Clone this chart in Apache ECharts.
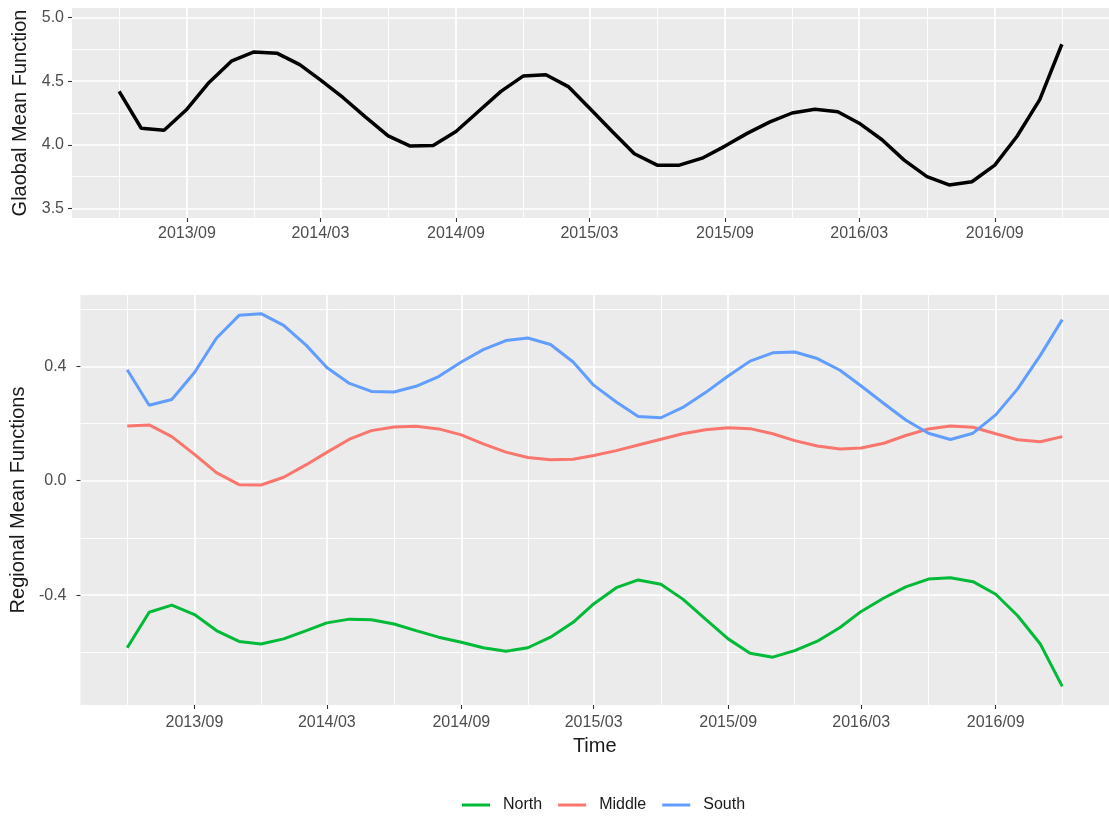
<!DOCTYPE html>
<html><head><meta charset="utf-8">
<script src="https://cdn.jsdelivr.net/npm/echarts@6/dist/echarts.min.js"></script>
<style>html,body{margin:0;padding:0;background:#fff}#c{width:1109px;height:818px}</style>
</head><body><div id="c"></div>
<script>
const months = ['2013-06','2013-07','2013-08','2013-09','2013-10','2013-11','2013-12',
  '2014-01','2014-02','2014-03','2014-04','2014-05','2014-06','2014-07','2014-08','2014-09','2014-10','2014-11','2014-12',
  '2015-01','2015-02','2015-03','2015-04','2015-05','2015-06','2015-07','2015-08','2015-09','2015-10','2015-11','2015-12',
  '2016-01','2016-02','2016-03','2016-04','2016-05','2016-06','2016-07','2016-08','2016-09','2016-10','2016-11','2016-12'];
const globalMean = [4.42,4.13,4.115,4.28,4.49,4.66,4.73,4.72,4.63,4.51,4.37,4.22,4.07,3.99,3.995,4.105,4.26,4.42,4.54,4.55,4.455,4.29,4.105,3.93,3.84,3.84,3.895,3.99,4.09,4.18,4.25,4.28,4.26,4.17,4.04,3.88,3.75,3.685,3.71,3.84,4.065,4.355,4.79];
const north = [-0.584,-0.460,-0.435,-0.468,-0.524,-0.562,-0.571,-0.553,-0.524,-0.497,-0.484,-0.486,-0.501,-0.524,-0.547,-0.565,-0.584,-0.596,-0.584,-0.547,-0.495,-0.431,-0.374,-0.347,-0.362,-0.414,-0.484,-0.553,-0.603,-0.617,-0.594,-0.561,-0.513,-0.457,-0.410,-0.371,-0.344,-0.339,-0.353,-0.397,-0.472,-0.571,-0.719];
const middle = [0.191,0.195,0.154,0.092,0.028,-0.014,-0.015,0.012,0.056,0.099,0.145,0.175,0.188,0.190,0.181,0.160,0.129,0.100,0.081,0.073,0.075,0.088,0.105,0.125,0.145,0.164,0.178,0.185,0.182,0.164,0.140,0.121,0.111,0.114,0.131,0.158,0.181,0.191,0.187,0.164,0.143,0.136,0.154];
const south = [0.388,0.264,0.284,0.378,0.498,0.578,0.584,0.543,0.473,0.396,0.340,0.312,0.310,0.330,0.364,0.415,0.458,0.490,0.499,0.476,0.415,0.334,0.275,0.224,0.220,0.256,0.308,0.366,0.418,0.447,0.450,0.427,0.386,0.331,0.270,0.212,0.166,0.144,0.166,0.230,0.321,0.438,0.563];
const seriesNames = ['North','Middle','South'];
const xTickLabels = ['2013/09','2014/03','2014/09','2015/03','2015/09','2016/03','2016/09'];
const xMinorTicks = ['2013/06','2013/12','2014/06','2014/12','2015/06','2015/12','2016/06','2016/12'];
const topYTicks = [3.5,4.0,4.5,5.0];
const topYMinor = [3.75,4.25,4.75];
const topYLimits = [3.5,5.0];
const botYTicks = [-0.4,0.0,0.4];
const botYMinor = [-0.6,-0.2,0.2,0.6];

function ts(s){ const p = s.split(/[-\/]/); return Date.UTC(+p[0], +p[1]-1, 1); }
const xs = months.map(ts);
const t0 = xs[0], t1 = xs[xs.length-1], pad = 0.05*(t1-t0);
const xMin = t0 - pad, xMax = t1 + pad;
const xMajorVals = xTickLabels.map(ts);
const xMinorVals = xMinorTicks.map(ts);
const labelMap = {}; xTickLabels.forEach(l => labelMap[ts(l)] = l);

const tyPad = 0.05*(topYLimits[1]-topYLimits[0]);
const allBot = north.concat(middle, south);
const bMinV = Math.min(...allBot), bMaxV = Math.max(...allBot);
const bPad = 0.05*(bMaxV-bMinV);

const FONT = 'Liberation Sans, Arial, sans-serif';
const tickStyle = {color:'#333333', width:1.1};
const labelColor = '#4D4D4D';
function xMajor(g, margin){
  return {type:'value', gridIndex:g, min:xMin, max:xMax, position:'bottom',
    axisLine:{show:false, onZero:false},
    axisTick:{show:true, length:4, lineStyle:tickStyle, customValues:xMajorVals},
    axisLabel:{customValues:xMajorVals, formatter:v=>labelMap[v]||'', color:labelColor, fontSize:16, margin:margin, fontFamily:FONT},
    splitLine:{show:true, lineStyle:{color:'#FFFFFF', width:1.7}}};
}
function xMinor(g){
  return {type:'value', gridIndex:g, min:xMin, max:xMax, position:'bottom',
    axisLine:{show:false, onZero:false}, axisTick:{show:false, customValues:xMinorVals}, axisLabel:{show:false},
    splitLine:{show:true, lineStyle:{color:'#FFFFFF', width:0.9}}};
}
function yMajor(g, min, max, ticks, margin){
  return {type:'value', gridIndex:g, min:min, max:max, position:'left',
    axisLine:{show:false, onZero:false},
    axisTick:{show:true, length:4, lineStyle:tickStyle, customValues:ticks},
    axisLabel:{customValues:ticks, formatter:v=>v.toFixed(1), color:labelColor, fontSize:16, margin:margin, fontFamily:FONT},
    splitLine:{show:true, lineStyle:{color:'#FFFFFF', width:1.7}}};
}
function yMinor(g, min, max, ticks){
  return {type:'value', gridIndex:g, min:min, max:max, position:'left',
    axisLine:{show:false, onZero:false}, axisTick:{show:false, customValues:ticks}, axisLabel:{show:false},
    splitLine:{show:true, lineStyle:{color:'#FFFFFF', width:0.9}}};
}

const titleStyle = {fontSize:20, color:'#1a1a1a', fontFamily:FONT};
const y0 = yMajor(0, topYLimits[0]-tyPad, topYLimits[1]+tyPad, topYTicks, 8);
Object.assign(y0, {name:'Glaobal Mean Function', nameLocation:'middle', nameGap:40, nameTextStyle:titleStyle});
const y2 = yMajor(1, bMinV-bPad, bMaxV+bPad, botYTicks, 14);
Object.assign(y2, {name:'Regional Mean Functions', nameLocation:'middle', nameGap:43, nameTextStyle:titleStyle});
const x2 = xMajor(1, 10);
Object.assign(x2, {name:'Time', nameLocation:'middle', nameGap:31, nameTextStyle:titleStyle});

const colors = ['#00BA38','#F8766D','#619CFF'];
const botData = [north, middle, south];

const option = {
  animation:false,
  backgroundColor:'#FFFFFF',
  grid:[
    {left:72, top:8, right:-6, height:210, show:true, backgroundColor:'#EBEBEB', borderWidth:0},
    {left:78, top:295, right:-6, height:410, show:true, backgroundColor:'#EBEBEB', borderWidth:0}
  ],
  xAxis:[xMajor(0, 8), xMinor(0), x2, xMinor(1)],
  yAxis:[y0, yMinor(0, topYLimits[0]-tyPad, topYLimits[1]+tyPad, topYMinor), y2, yMinor(1, bMinV-bPad, bMaxV+bPad, botYMinor)],
  legend:{data:seriesNames, left:457, top:792, icon:'rect', itemWidth:28, itemHeight:3, itemGap:16,
    textStyle:{fontSize:16, color:'#1a1a1a', padding:[0,0,0,8], fontFamily:FONT}},
  series:[
    {type:'line', name:'Global', xAxisIndex:0, yAxisIndex:0, showSymbol:false, symbol:'none',
      lineStyle:{color:'#000000', width:3.5}, data:xs.map((x,i)=>[x, globalMean[i]])}
  ].concat(botData.map((arr,k)=>({
    type:'line', name:seriesNames[k], xAxisIndex:2, yAxisIndex:2, showSymbol:false, symbol:'none',
    color:colors[k], lineStyle:{color:colors[k], width:3}, data:xs.map((x,i)=>[x, arr[i]])
  })))
};
const chart = echarts.init(document.getElementById('c'), null, {renderer:'canvas'});
chart.setOption(option);
</script></body></html>
